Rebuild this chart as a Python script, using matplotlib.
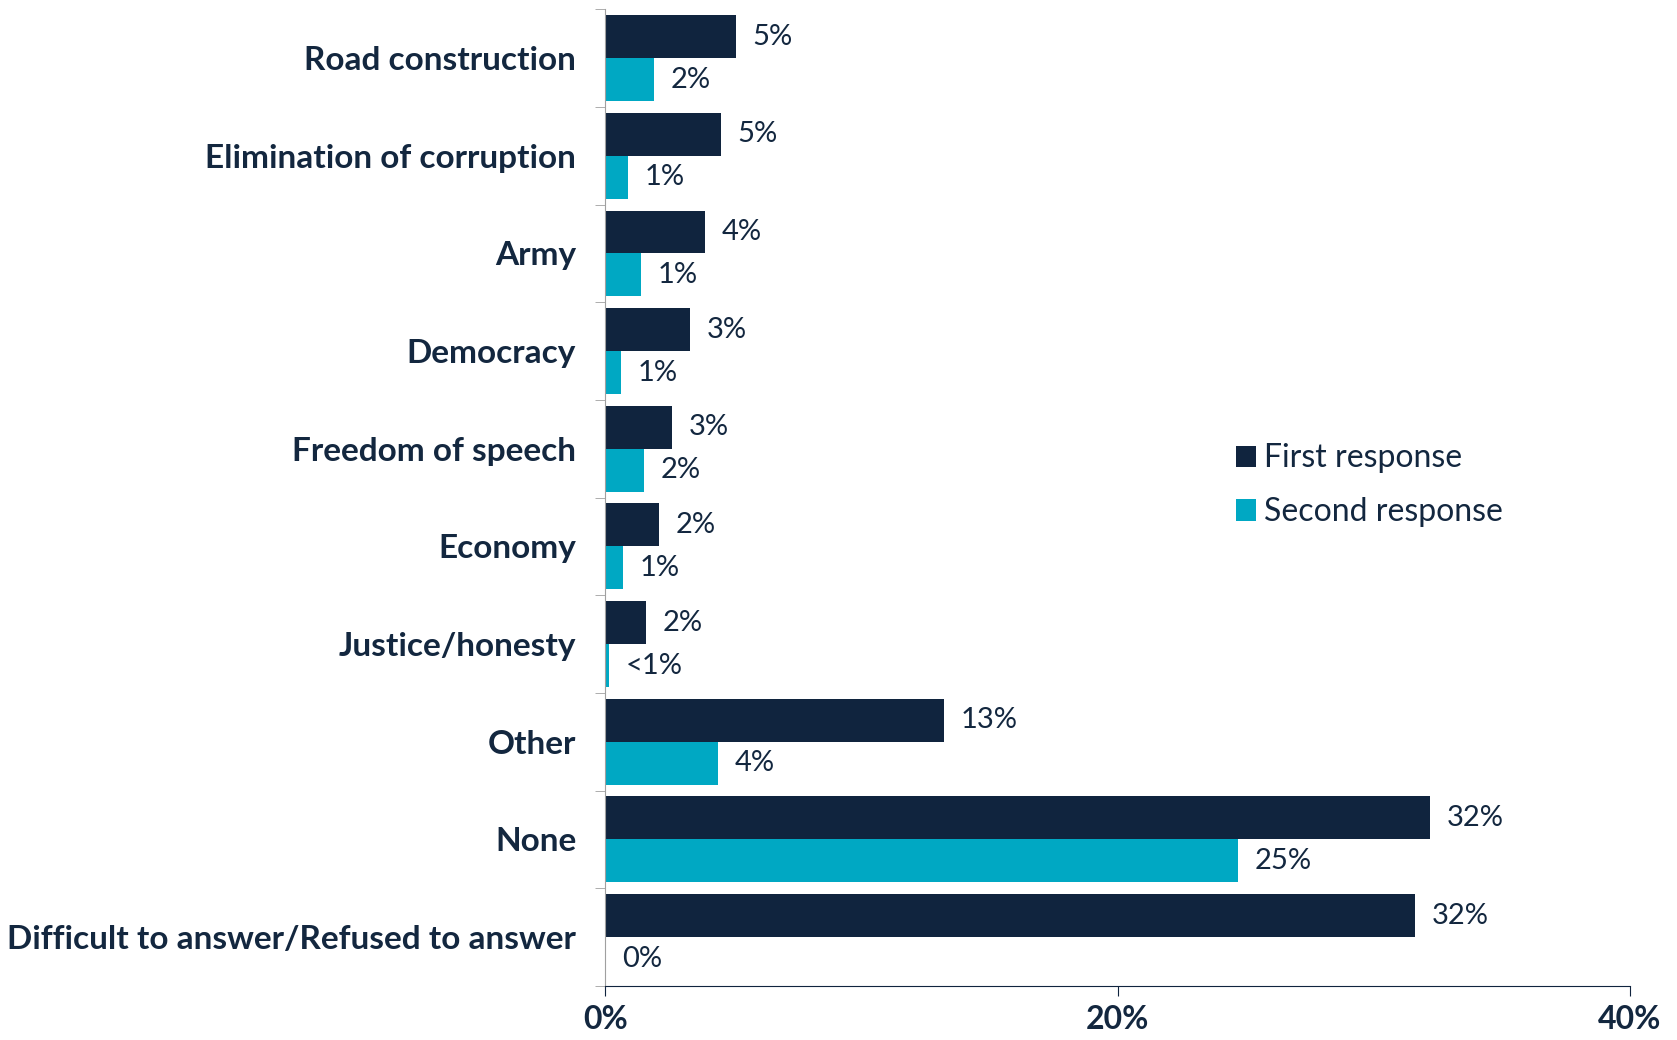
import matplotlib.pyplot as plt
import numpy as np

# === DATOS ===
categories = ["Road construction", "Elimination of corruption", "Army", "Democracy",
              "Freedom of speech", "Economy", "Justice/honesty", "Other", "None",
              "Difficult to answer/Refused to answer"]
first = [5.1, 4.5, 3.9, 3.3, 2.6, 2.1, 1.6, 13.2, 32.2, 31.6]
second = [1.9, 0.9, 1.4, 0.6, 1.5, 0.7, 0.15, 4.4, 24.7, 0.0]
first_labels = ["5%", "5%", "4%", "3%", "3%", "2%", "2%", "13%", "32%", "32%"]
second_labels = ["2%", "1%", "1%", "1%", "2%", "1%", "<1%", "4%", "25%", "0%"]
xticks = [0, 20, 40]
xtick_labels = ["0%", "20%", "40%"]

navy = "#10243e"
teal = "#00a8c3"
txt = "#13273f"
font = "Lato"

fig = plt.figure(figsize=(16.77, 10.40), dpi=100)
ax = fig.add_axes([0.361, 0.052, 0.611, 0.939])

n = len(categories)
y = np.arange(n)
h = 0.44
ax.barh(y - h / 2, first, height=h, color=navy, label="First response")
ax.barh(y + h / 2, second, height=h, color=teal, label="Second response")

for i in range(n):
    ax.text(first[i] + 0.65, y[i] - h / 2, first_labels[i], va="center", ha="left",
            fontsize=21, color=txt, family=font)
    ax.text(second[i] + 0.65, y[i] + h / 2, second_labels[i], va="center", ha="left",
            fontsize=21, color=txt, family=font)

ax.set_ylim(n - 0.5, -0.5)
ax.set_xlim(0, 40)
ax.set_yticks(y)
ax.set_yticklabels(categories, fontsize=24, fontweight="bold", color=txt, family=font)
ax.set_yticks(np.arange(n + 1) - 0.5, minor=True)
ax.tick_params(axis="y", which="major", length=0, pad=21)
ax.tick_params(axis="y", which="minor", length=7, color="#a0a0a0")
ax.set_xticks(xticks)
ax.set_xticklabels(xtick_labels, fontsize=23, fontweight="bold", color=txt, family=font)
ax.tick_params(axis="x", length=7, color=navy, pad=7)

for s in ["top", "right"]:
    ax.spines[s].set_visible(False)
ax.spines["left"].set_color("#a0a0a0")
ax.spines["bottom"].set_color(navy)

leg = ax.legend(loc="upper left", bbox_to_anchor=(0.587, 0.585), frameon=False,
                prop={"family": font, "size": 23}, handlelength=0.65, handleheight=0.65,
                handletextpad=0.25, labelspacing=0.75)
for t in leg.get_texts():
    t.set_color(txt)

fig.savefig("out.png", dpi=100)
